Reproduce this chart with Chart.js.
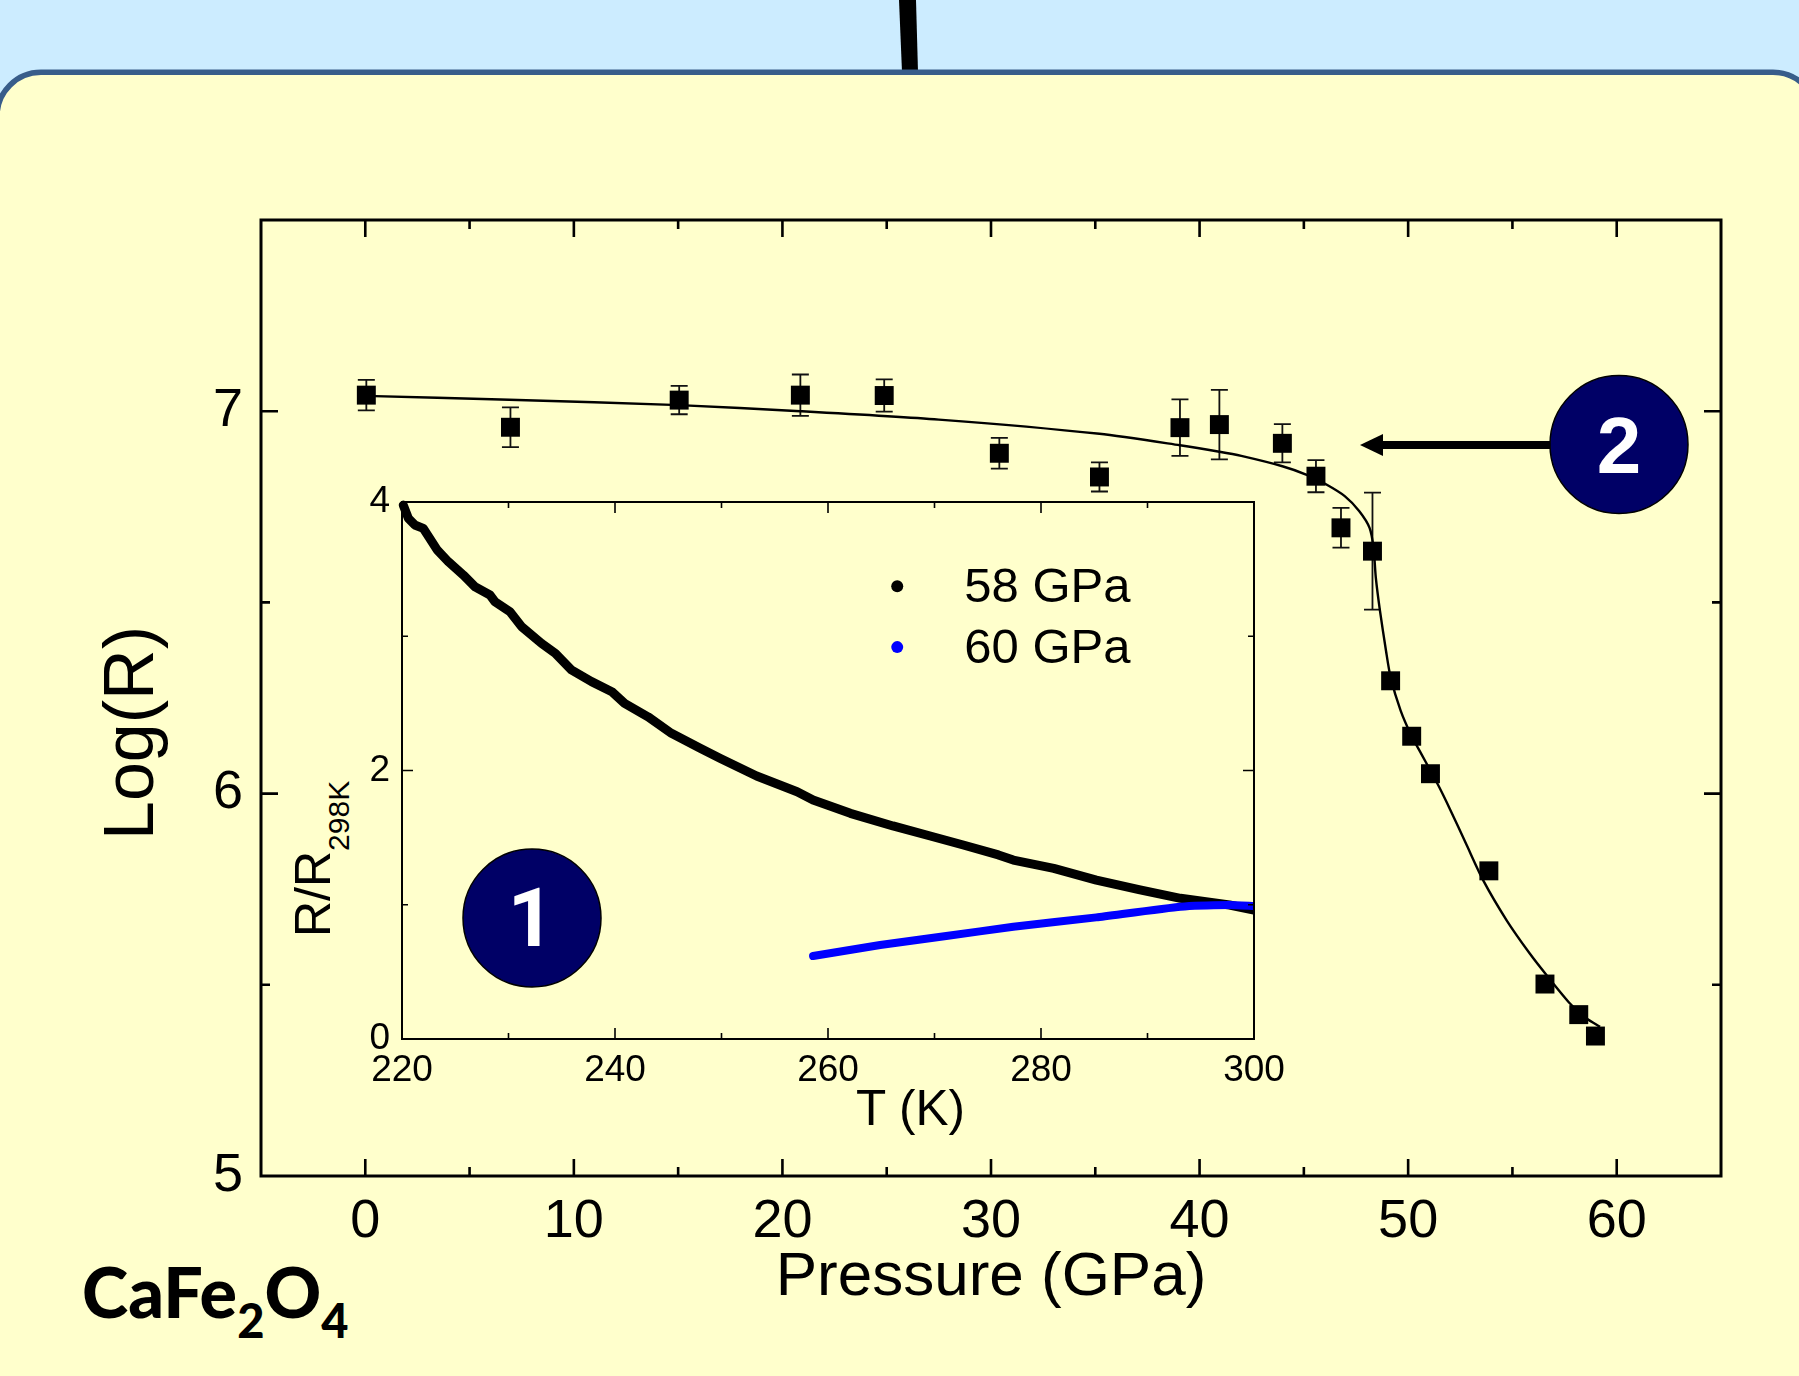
<!DOCTYPE html>
<html>
<head>
<meta charset="utf-8">
<script src="https://cdn.jsdelivr.net/npm/chart.js@4"></script>
<style>
html,body{margin:0;padding:0;width:1799px;height:1376px;overflow:hidden;background:#CCECFF;}
svg,canvas{position:absolute;left:0;top:0;display:block;}
text{font-family:"Liberation Sans",Arial,sans-serif;fill:#000;}
</style>
</head>
<body>
<svg width="1799" height="1376" viewBox="0 0 1799 1376">
  <polygon points="899,0 916,0 918,72 902,72" fill="#000"/>
  <rect x="-3" y="72.3" width="1820" height="1400" rx="44" ry="44" fill="#FFFFCC" stroke="#385D8A" stroke-width="5.5"/>
  <circle cx="532" cy="918" r="69" fill="#000066" stroke="#000" stroke-width="1.5"/>
  <text x="531" y="946" text-anchor="middle" font-size="81" font-weight="bold" style="fill:#fff;font-family:Roboto,sans-serif">1</text>
  <line x1="1550" y1="445" x2="1380" y2="445" stroke="#000" stroke-width="8"/>
  <polygon points="1360,445 1383,434 1383,456" fill="#000"/>
  <circle cx="1619" cy="444.5" r="69" fill="#000066" stroke="#000" stroke-width="1.5"/>
  <text x="1619" y="473" text-anchor="middle" font-size="80" font-weight="bold" style="fill:#fff">2</text>
  <text transform="translate(153,840) rotate(-90)" font-size="70">Log(R)</text>
  <text transform="translate(330,937) rotate(-90)" font-size="50">R/R<tspan font-size="30" dy="19">298K</tspan></text>
  <text x="856" y="1125" font-size="49.5">T (K)</text>
  <text x="82" y="1318" font-size="70" font-weight="900" style="font-family:Lato,'Open Sans',sans-serif">CaFe<tspan font-size="47" dy="20">2</tspan><tspan dy="-20">O</tspan><tspan font-size="47" dy="20">4</tspan></text>
</svg>
<canvas id="main" width="1799" height="1376"></canvas>
<canvas id="inset" width="1799" height="1376"></canvas>
<script>
// Main panel: Log(R) vs pressure
const pressure = [0.05,6.96,15.05,20.86,24.88,30.4,35.2,39.06,40.95,43.97,45.58,46.78,48.29,49.16,50.17,51.07,53.87,56.56,58.18,58.98];
const logR     = [7.042,6.958,7.029,7.042,7.041,6.89,6.828,6.957,6.965,6.916,6.83,6.695,6.634,6.295,6.15,6.052,5.798,5.502,5.422,5.366];
const logRErr  = [0.04,0.052,0.037,0.054,0.042,0.04,0.038,0.074,0.091,0.05,0.042,0.052,0.153,null,null,null,null,null,null,null];
const fitP     = [0,6.9,15.05,20.86,27.5,35.2,39.06,40.95,42,43.97,45.17,46.06,46.96,47.65,48.15,48.34,48.45,48.65,48.94,49.16,49.64,50.17,50.63,51.07,51.5,52,52.8,53.6,54.73,55.84,56.64,57.76,58.56,59.2];
const fitLogR  = [7.04,7.03,7.016,7.0,6.978,6.941,6.911,6.894,6.883,6.856,6.833,6.809,6.778,6.739,6.695,6.643,6.565,6.478,6.373,6.304,6.217,6.15,6.104,6.06,6.016,5.96,5.866,5.773,5.668,5.581,5.525,5.451,5.412,5.39];
const mainXLabels = [0,10,20,30,40,50,60];
const mainYLabels = [5,6,7];
// Inset: R/R298K vs temperature
const temp58 = [220.12,220.6,221.2,222,222.5,223.3,224.35,225.76,226.85,228.26,228.73,230.14,231.24,233.1,234.4,235.9,237.8,239.7,240.9,243.1,245.3,248,249.9,253.3,257.1,258.6,262.1,266.1,269.6,272.7,276,277.4,281.2,285.2,289.3,293.1,297.7,300];
const ratio58 = [3.977,3.878,3.829,3.804,3.742,3.643,3.555,3.456,3.369,3.307,3.257,3.183,3.071,2.947,2.873,2.749,2.662,2.587,2.5,2.4,2.277,2.165,2.09,1.959,1.842,1.78,1.681,1.587,1.512,1.445,1.371,1.333,1.271,1.184,1.11,1.048,0.998,0.96];
const temp60 = [258.6,264.9,271.1,277.4,285.2,293.1,297.7,300];
const ratio60 = [0.618,0.70,0.767,0.836,0.906,0.985,0.998,0.99];
const insetXLabels = [220,240,260,280,300];
const insetYLabels = [0,2,4];

const SANS = '"Liberation Sans", Arial, sans-serif';
const frame = {
  id:'frame',
  afterDraw(chart,_a,o){
    const {ctx,chartArea:{left,right,top,bottom},scales:{x,y}} = chart;
    ctx.save();
    ctx.strokeStyle='#000'; ctx.lineCap='butt';
    ctx.lineWidth=o.tickWidth;
    ctx.beginPath();
    x.ticks.forEach(t=>{
      const p=x.getPixelForValue(t.value);
      if(p<=left+1||p>=right-1) return;
      const l=t.label!==''?o.major:o.minor;
      ctx.moveTo(p,bottom);ctx.lineTo(p,bottom-l);
      ctx.moveTo(p,top);ctx.lineTo(p,top+l);
    });
    y.ticks.forEach(t=>{
      const p=y.getPixelForValue(t.value);
      if(p<=top+1||p>=bottom-1) return;
      const l=t.label!==''?o.major:o.minor;
      ctx.moveTo(left,p);ctx.lineTo(left+l,p);
      ctx.moveTo(right,p);ctx.lineTo(right-l,p);
    });
    ctx.stroke();
    ctx.lineWidth=o.border;
    ctx.strokeRect(left,top,right-left,bottom-top);
    ctx.restore();
  }
};
const errorBars = {
  id:'errorBars',
  beforeDatasetsDraw(chart){
    const {ctx,scales:{x,y}} = chart;
    ctx.save();ctx.strokeStyle='#111';ctx.lineWidth=1.8;
    ctx.beginPath();
    pressure.forEach((p,i)=>{
      if(logRErr[i]==null) return;
      const px=x.getPixelForValue(p),hi=y.getPixelForValue(logR[i]+logRErr[i]),lo=y.getPixelForValue(logR[i]-logRErr[i]);
      ctx.moveTo(px,hi);ctx.lineTo(px,lo);
      ctx.moveTo(px-8.5,hi);ctx.lineTo(px+8.5,hi);
      ctx.moveTo(px-8.5,lo);ctx.lineTo(px+8.5,lo);
    });
    ctx.stroke();ctx.restore();
  }
};
const insetLegend = {
  id:'insetLegend',
  afterDraw(chart){
    const {ctx,scales:{x,y}} = chart;
    ctx.save();ctx.textBaseline='middle';ctx.font='49px '+SANS;
    chart.data.datasets.forEach((d,i)=>{
      const py=y.getPixelForValue(3.372-0.453*i), px=x.getPixelForValue(266.5);
      ctx.fillStyle=d.borderColor;
      ctx.beginPath();ctx.arc(px,py,6,0,Math.PI*2);ctx.fill();
      ctx.fillStyle='#000';
      ctx.fillText(d.label,x.getPixelForValue(272.8),py+2);
    });
    ctx.restore();
  }
};
const noOverflow = (w,h)=>(s)=>{
  if(w!=null) s.width=w;
  if(h!=null) s.height=h;
  s.paddingLeft=s.paddingRight=s.paddingTop=s.paddingBottom=0;
};

new Chart(document.getElementById('main'),{
  type:'scatter',
  data:{datasets:[
    {label:'Fit',data:fitP.map((p,i)=>({x:p,y:fitLogR[i]})),showLine:true,borderColor:'#000',borderWidth:2.4,pointRadius:0,tension:0.25,order:2},
    {label:'Log(R)',data:pressure.map((p,i)=>({x:p,y:logR[i]})),showLine:false,pointStyle:'rect',pointRadius:13.4,backgroundColor:'#000',borderColor:'#000',borderWidth:0,order:1}
  ]},
  plugins:[frame,errorBars],
  options:{
    responsive:false,animation:false,devicePixelRatio:1,
    layout:{padding:{left:0,top:220,right:78,bottom:0}},
    plugins:{legend:{display:false},tooltip:{enabled:false},frame:{major:17,minor:9,tickWidth:2.6,border:3}},
    scales:{
      x:{type:'linear',min:-5,max:65,afterFit:noOverflow(null,200),
        border:{display:false},grid:{display:false,drawTicks:false,tickLength:0},
        title:{display:true,text:'Pressure (GPa)',color:'#000',font:{family:SANS,size:62},padding:{top:0,bottom:61}},
        ticks:{stepSize:5,autoSkip:false,maxRotation:0,minRotation:0,padding:14,color:'#000',font:{family:SANS,size:54},
          callback:v=>mainXLabels.includes(v)?String(v):''}},
      y:{type:'linear',min:5,max:7.5,afterFit:noOverflow(261,null),
        border:{display:false},grid:{display:false,drawTicks:false,tickLength:0},
        ticks:{stepSize:0.5,autoSkip:false,padding:18,color:'#000',font:{family:SANS,size:54},
          callback:v=>mainYLabels.includes(v)?String(v):''}}
    }
  }
});

new Chart(document.getElementById('inset'),{
  type:'scatter',
  data:{datasets:[
    {label:'58 GPa',data:temp58.map((t,i)=>({x:t,y:ratio58[i]})),showLine:true,borderColor:'#000',borderWidth:9,borderCapStyle:'round',borderJoinStyle:'round',pointRadius:0,tension:0,clip:{left:4,top:4,right:0,bottom:0},order:2},
    {label:'60 GPa',data:temp60.map((t,i)=>({x:t,y:ratio60[i]})),showLine:true,borderColor:'#0000FF',borderWidth:8,borderCapStyle:'round',borderJoinStyle:'round',pointRadius:0,tension:0.15,clip:{left:4,top:4,right:0,bottom:0},order:1}
  ]},
  plugins:[frame,insetLegend],
  options:{
    responsive:false,animation:false,devicePixelRatio:1,
    layout:{padding:{left:342,top:502,right:545,bottom:237}},
    plugins:{legend:{display:false},tooltip:{enabled:false},frame:{major:11,minor:6,tickWidth:1.6,border:2}},
    scales:{
      x:{type:'linear',min:220,max:300,afterFit:noOverflow(null,100),
        border:{display:false},grid:{display:false,drawTicks:false,tickLength:0},
        ticks:{stepSize:10,autoSkip:false,maxRotation:0,minRotation:0,padding:10,color:'#000',font:{family:SANS,size:37},
          callback:v=>insetXLabels.includes(v)?String(v):''}},
      y:{type:'linear',min:0,max:4,afterFit:noOverflow(60,null),
        border:{display:false},grid:{display:false,drawTicks:false,tickLength:0},
        ticks:{stepSize:1,autoSkip:false,padding:12,color:'#000',font:{family:SANS,size:37},
          callback:v=>insetYLabels.includes(v)?String(v):''}}
    }
  }
});
</script>
</body>
</html>
